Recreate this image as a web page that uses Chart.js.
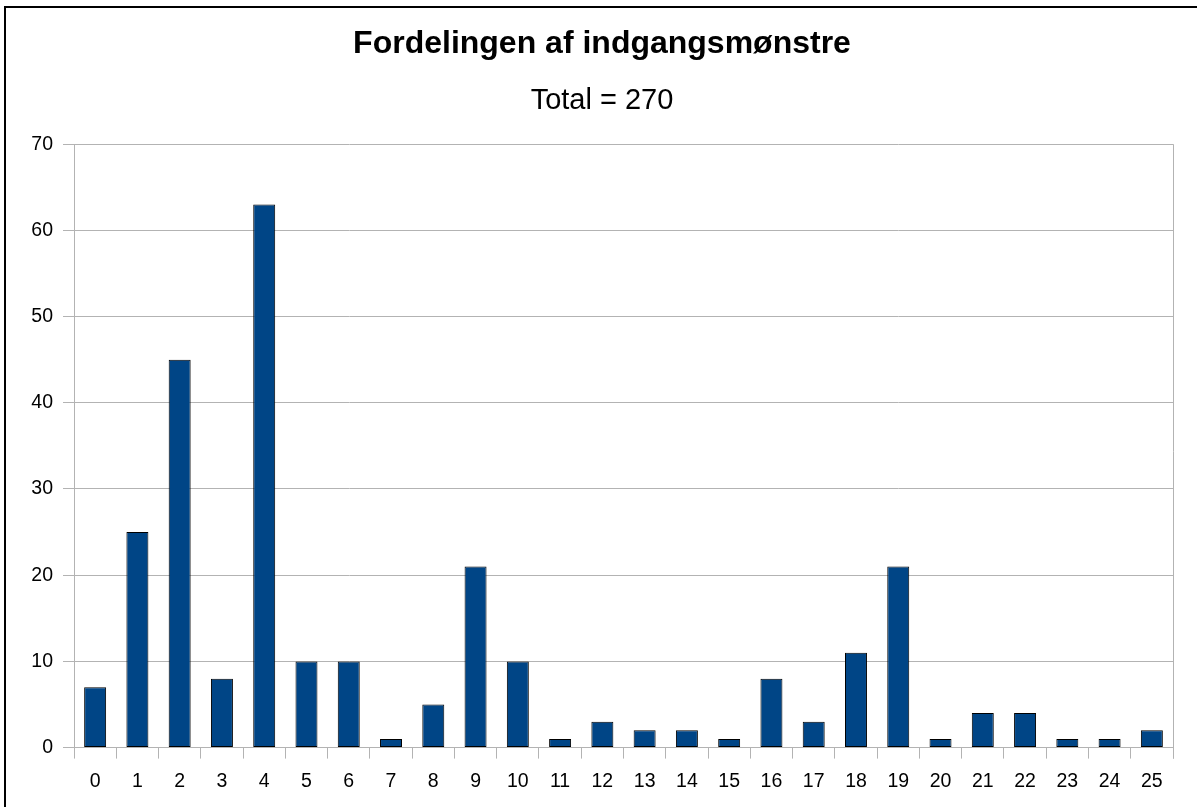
<!DOCTYPE html>
<html>
<head>
<meta charset="utf-8">
<script src="https://cdn.jsdelivr.net/npm/chart.js@4"></script>
<style>
  html, body { margin: 0; padding: 0; background: #fff; overflow: hidden; }
  #wrap { position: relative; width: 1197px; height: 807px; }
  #frame { position: absolute; left: 4px; top: 6px; width: 1300px; height: 900px; border: 2px solid #000; box-sizing: border-box; pointer-events: none; }
  canvas { position: absolute; left: 0; top: 0; }
</style>
</head>
<body>
<div id="wrap">
  <canvas id="canvas" width="1197" height="807"></canvas>
  <div id="frame"></div>
</div>
<script>
const ctx = document.getElementById('canvas');

const titleText = 'Fordelingen af indgangsmønstre';
const subtitleText = 'Total = 270';
const patterns = ['0','1','2','3','4','5','6','7','8','9','10','11','12','13','14','15','16','17','18','19','20','21','22','23','24','25'];
const counts = [7, 25, 45, 8, 63, 10, 10, 1, 5, 21, 10, 1, 3, 2, 2, 1, 8, 3, 11, 21, 1, 4, 4, 1, 1, 2];

const gridGray = '#b3b3b3';
const fontFamily = '"Liberation Sans", Arial, sans-serif';

// right-hand edge of the plot area (wall border)
const plotEdge = {
    id: 'plotEdge',
    afterDraw(chart) {
        const a = chart.chartArea;
        const c = chart.ctx;
        c.save();
        c.strokeStyle = gridGray;
        c.lineWidth = 1;
        c.beginPath();
        c.moveTo(Math.round(a.right) + 0.5, a.top);
        c.lineTo(Math.round(a.right) + 0.5, a.bottom + 11);
        c.stroke();
        c.restore();
    }
};

new Chart(ctx, {
    type: 'bar',
    data: {
        labels: patterns,
        datasets: [{
            data: counts,
            backgroundColor: '#004586',
            borderColor: '#000000',
            borderWidth: 1,
            borderSkipped: false,
            barPercentage: 0.52,
            categoryPercentage: 1.0,
        }]
    },
    options: {
        responsive: false,
        animation: false,
        layout: { padding: { left: 31, right: 24, top: 0, bottom: 3 } },
        plugins: {
            legend: { display: false },
            tooltip: { enabled: false },
            title: {
                display: true,
                text: titleText,
                color: '#000',
                font: { family: fontFamily, size: 32, weight: 'bold', lineHeight: 1.2 },
                padding: { top: 25, bottom: 0 }
            },
            subtitle: {
                display: true,
                text: subtitleText,
                color: '#000',
                font: { family: fontFamily, size: 29, weight: 'normal', lineHeight: 1.2 },
                padding: { top: 20, bottom: 26 }
            }
        },
        scales: {
            x: {
                offset: true,
                grid: {
                    offset: true,
                    drawOnChartArea: false,
                    tickColor: gridGray,
                    tickLength: 11,
                    lineWidth: 1
                },
                border: { display: true, color: gridGray },
                ticks: {
                    color: '#000',
                    padding: 11,
                    maxRotation: 0,
                    autoSkip: false,
                    font: { family: fontFamily, size: 19.5 }
                }
            },
            y: {
                min: 0,
                max: 70,
                afterFit: (scale) => { scale.width = 43; },
                grid: {
                    color: gridGray,
                    tickColor: gridGray,
                    tickLength: 11,
                    lineWidth: 1
                },
                border: { display: true, color: gridGray },
                ticks: {
                    stepSize: 10,
                    color: '#000',
                    padding: 10,
                    font: { family: fontFamily, size: 19.5 }
                }
            }
        }
    },
    plugins: [plotEdge]
});
</script>
</body>
</html>
